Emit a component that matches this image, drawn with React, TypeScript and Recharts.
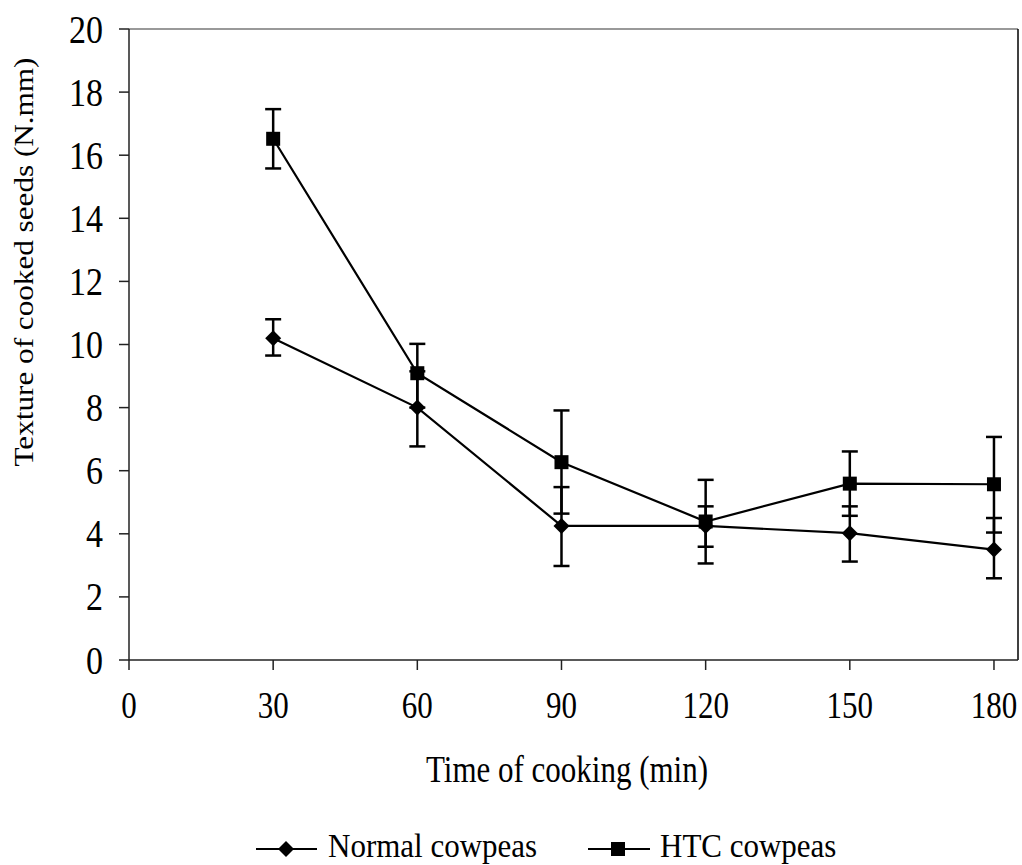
import { LineChart, Line, XAxis, YAxis, ErrorBar, ReferenceLine, Label } from "recharts";

const times = [30, 60, 90, 120, 150, 180];
const normalValues = [10.2, 8.0, 4.25, 4.25, 4.02, 3.5];
const normalErr = [[0.55, 0.6], [1.23, 1.15], [1.27, 1.23], [0.66, 0.62], [0.9, 0.85], [0.91, 1.0]];
const htcValues = [16.52, 9.09, 6.27, 4.39, 5.59, 5.57];
const htcErr = [[0.94, 0.94], [1.09, 0.93], [1.63, 1.64], [1.33, 1.32], [1.02, 1.02], [1.53, 1.5]];
const xTicks = [0, 30, 60, 90, 120, 150, 180];
const yTicks = [0, 2, 4, 6, 8, 10, 12, 14, 16, 18, 20];
const seriesNames = ["Normal cowpeas", "HTC cowpeas"];

const data = times.map((t, i) => ({
  time: t,
  normal: normalValues[i],
  normalErr: normalErr[i],
  htc: htcValues[i],
  htcErr: htcErr[i],
}));

const FONT = '"Liberation Serif", "Times New Roman", serif';
// the source picture is a little stretched vertically
const STRETCH = 1.2;

const Diamond = (props: any) => {
  const { cx, cy, key } = props;
  if (cx == null || cy == null) return <g key={key} />;
  return <polygon key={key} points={`${cx},${cy - 8} ${cx + 8},${cy} ${cx},${cy + 8} ${cx - 8},${cy}`} fill="#000" />;
};

const Square = (props: any) => {
  const { cx, cy, key } = props;
  if (cx == null || cy == null) return <g key={key} />;
  return <rect key={key} x={cx - 7} y={cy - 7} width={14} height={14} fill="#000" />;
};

// text drawn at baseline (x, y), stretched vertically
const Tall = ({ x, y, size, anchor = "start", stretch = STRETCH, children }: any) => (
  <text
    transform={`translate(${x} ${y}) scale(1 ${stretch})`}
    textAnchor={anchor}
    fontFamily={FONT}
    fontSize={size}
    fill="#000"
  >
    {children}
  </text>
);

const XTick = (props: any) => {
  const { x, y, payload } = props;
  return <Tall x={x} y={y + 23} size={31} anchor="middle">{payload.value}</Tall>;
};

const YTick = (props: any) => {
  const { x, y, payload } = props;
  return <Tall x={x} y={y + 13.5} size={34} anchor="end">{payload.value}</Tall>;
};

const YTitle = () => (
  <text
    x={33}
    y={262}
    transform="rotate(-90 33 262)"
    textAnchor="middle"
    fontFamily={FONT}
    fontSize={28}
    textLength={409}
    lengthAdjust="spacingAndGlyphs"
    fill="#000"
  >
    Texture of cooked seeds (N.mm)
  </text>
);

const XTitle = () => (
  <Tall x={567} y={782} size={31} anchor="middle">
    Time of cooking (min)
  </Tall>
);

// legend svg spans y 800..865 on the page
function LegendRow() {
  return (
    <svg width={1022} height={65} style={{ position: "absolute", left: 0, top: 800 }}>
      <g>
        <line x1={256} y1={49} x2={317} y2={49} stroke="#000" strokeWidth={2.2} />
        <polygon points="286,41 294,49 286,57 278,49" fill="#000" />
        <Tall x={328} y={57} size={31} stretch={1.1}>{seriesNames[0]}</Tall>
      </g>
      <g>
        <line x1={588} y1={49} x2={650} y2={49} stroke="#000" strokeWidth={2.2} />
        <rect x={611} y={42} width={14} height={14} fill="#000" />
        <Tall x={660} y={57} size={31} stretch={1.1}>{seriesNames[1]}</Tall>
      </g>
    </svg>
  );
}

export default function App() {
  return (
    <div style={{ position: "absolute", left: 0, top: 0, width: 1022, height: 865, background: "#fff" }}>
      <LineChart width={1022} height={865} data={data} margin={{ top: 29, right: 4, bottom: 0, left: 0 }}>
        <XAxis
          dataKey="time"
          type="number"
          domain={[0, 185]}
          ticks={xTicks}
          interval={0}
          height={205}
          tickSize={10}
          tickMargin={25}
          axisLine={{ stroke: "#222", strokeWidth: 1.5 }}
          tickLine={{ stroke: "#222", strokeWidth: 1.5 }}
          tick={XTick}
        >
          <Label content={XTitle} />
        </XAxis>
        <YAxis
          type="number"
          domain={[0, 20]}
          ticks={yTicks}
          interval={0}
          width={129}
          tickSize={10}
          tickMargin={16}
          axisLine={{ stroke: "#222", strokeWidth: 1.5 }}
          tickLine={{ stroke: "#222", strokeWidth: 1.5 }}
          tick={YTick}
        >
          <Label content={YTitle} />
        </YAxis>
        <ReferenceLine y={20} stroke="#777" strokeWidth={1.5} />
        <ReferenceLine x={185} stroke="#000" strokeWidth={1.5} />
        <Line
          dataKey="normal"
          name={seriesNames[0]}
          stroke="#000"
          strokeWidth={2.2}
          dot={Diamond}
          isAnimationActive={false}
        >
          <ErrorBar dataKey="normalErr" width={8} stroke="#000" strokeWidth={2.5} direction="y" />
        </Line>
        <Line
          dataKey="htc"
          name={seriesNames[1]}
          stroke="#000"
          strokeWidth={2.2}
          dot={Square}
          isAnimationActive={false}
        >
          <ErrorBar dataKey="htcErr" width={8} stroke="#000" strokeWidth={2.5} direction="y" />
        </Line>
      </LineChart>
      <LegendRow />
    </div>
  );
}
